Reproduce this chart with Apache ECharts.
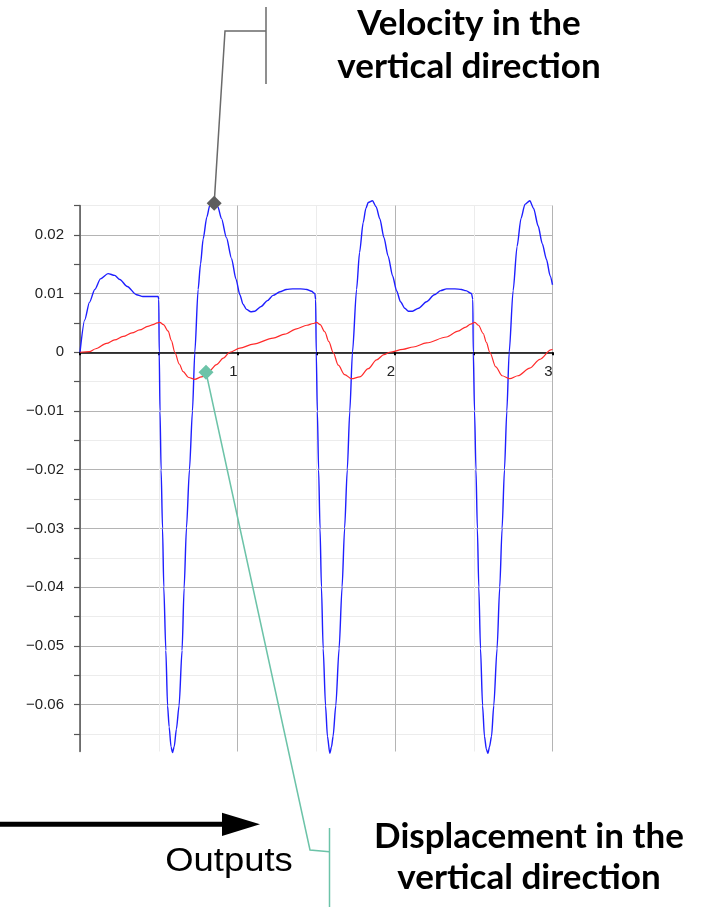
<!DOCTYPE html>
<html>
<head>
<meta charset="utf-8">
<script src="https://cdn.jsdelivr.net/npm/echarts@6/dist/echarts.min.js"></script>
<style>
html,body{margin:0;padding:0;background:#fff;}
#chart{width:709px;height:907px;}
</style>
</head>
<body>
<div id="chart"></div>
<script>
// ---- data (time in s, values) ----
const velT = [0,0.03,0.06,0.094,0.13,0.178,0.22,0.253,0.30,0.359,0.40,0.45,0.496,
  0.50,0.503,0.508,0.515,0.524,0.532,0.545,0.556,0.566,0.578,0.587,0.598,0.612,0.629,0.648,0.661,0.676,0.695,0.714,0.729,
  0.75,0.765,0.782,0.805,0.824,0.845,0.856,0.875,0.898,0.93,0.962,0.99,1.015,1.035,1.057,1.085,1.11,1.15,1.19,1.226,1.27,1.31,1.35,1.40,1.44,1.47,1.491,
  1.496,1.50,1.507,1.515,1.524,1.533,1.544,1.559,1.571,1.586,1.597,1.607,1.624,1.645,1.664,1.68,1.697,1.713,1.730,
  1.756,1.775,1.798,1.815,1.83,1.857,1.88,1.904,1.93,1.956,1.985,2.01,2.035,2.062,2.085,2.111,2.15,2.2,2.25,2.29,2.327,2.38,2.422,2.45,2.486,
  2.494,2.497,2.505,2.514,2.523,2.532,2.543,2.556,2.568,2.58,2.59,2.60,2.613,2.627,2.648,2.665,2.68,2.695,2.71,2.725,
  2.75,2.775,2.80,2.825,2.856,2.88,2.909,2.935,2.962,2.985,3.0];
const velV = [0,0.0055,0.0085,0.0107,0.0125,0.0134,0.0131,0.0124,0.0112,0.0098,0.0095,0.0095,0.0095,
  0.0090,0.000,-0.010,-0.020,-0.030,-0.040,-0.0508,-0.0602,-0.0638,-0.0672,-0.0682,-0.0672,-0.0642,-0.0602,-0.0508,-0.0402,-0.0299,-0.020,-0.010,0.000,
  0.0107,0.0150,0.0193,0.0230,0.0250,0.0257,0.0256,0.0248,0.0228,0.0195,0.0160,0.0125,0.0098,0.0082,0.0073,0.0069,0.0070,0.0078,0.0088,0.0097,0.0103,0.0107,0.0108,0.0108,0.0107,0.0104,0.0100,
  0.0090,0.000,-0.010,-0.020,-0.030,-0.040,-0.0505,-0.0602,-0.0654,-0.0683,-0.0672,-0.0654,-0.0602,-0.0505,-0.040,-0.030,-0.020,-0.010,0.000,
  0.0107,0.0170,0.0221,0.0245,0.0255,0.0258,0.0248,0.0227,0.0195,0.0164,0.0130,0.0105,0.0086,0.0075,0.0070,0.0070,0.0075,0.0086,0.0098,0.0105,0.0108,0.0108,0.0107,0.0105,0.0100,
  0.0090,0.000,-0.010,-0.020,-0.030,-0.040,-0.0505,-0.0602,-0.0654,-0.0676,-0.0683,-0.0672,-0.0654,-0.0602,-0.0505,-0.040,-0.030,-0.020,-0.010,0.000,
  0.0105,0.0180,0.0228,0.0252,0.0258,0.0245,0.0215,0.0185,0.0158,0.0130,0.0115];

const dispT = [0,0.06,0.1,0.168,0.22,0.274,0.33,0.379,0.43,0.464,0.49,0.507,0.53,0.56,0.58,0.602,0.63,0.655,0.69,0.729,0.771,0.82,0.867,0.91,0.951,
  1.015,1.1,1.226,1.3,1.375,1.44,1.48,1.502,1.525,1.554,1.58,1.607,1.64,1.68,1.724,1.776,1.83,1.883,1.93,1.967,
  2.05,2.116,2.2,2.327,2.40,2.45,2.48,2.507,2.53,2.56,2.58,2.602,2.64,2.68,2.729,2.78,2.856,2.92,2.99,3.0];
const dispV = [0,0.0001,0.0006,0.0015,0.0021,0.0027,0.0033,0.0038,0.0044,0.0047,0.0050,0.0051,0.0047,0.0036,0.0020,0.0000,-0.0020,-0.0033,-0.0043,-0.0046,-0.0042,-0.0032,-0.0021,-0.0010,0.0000,
  0.0007,0.0014,0.0024,0.0031,0.0040,0.0046,0.0049,0.0051,0.0047,0.0035,0.0018,0.0000,-0.0022,-0.0038,-0.0045,-0.0042,-0.0028,-0.0013,-0.0004,0.0000,
  0.0005,0.0009,0.0016,0.0026,0.0036,0.0043,0.0048,0.0051,0.0046,0.0032,0.0017,0.0000,-0.0025,-0.0040,-0.0045,-0.0040,-0.0027,-0.0012,0.0004,0.0005];

// axis ticks / labels
const yTickValues = [-0.065,-0.06,-0.055,-0.05,-0.045,-0.04,-0.035,-0.03,-0.025,-0.02,-0.015,-0.01,-0.005,0,0.005,0.01,0.015,0.02,0.025];
const yLabelValues = [-0.06,-0.05,-0.04,-0.03,-0.02,-0.01,0,0.01,0.02];
const xLabelValues = [1,2,3];

// callout anchors (data coords)
const velocityCallout = [0.852, 0.0254];
const dispCallout = [0.80, -0.0034];

const chart = echarts.init(document.getElementById('chart'), null, {renderer:'canvas'});
const zip = (a,b) => a.map((v,i)=>[v,b[i]]);

const gridTop = 205.5, gridBottom = 155.5;
const yMin = -0.068, yMax = 0.025;
// distance from the bottom of the plot to the zero line, so x labels sit just under the zero axis
const plotH = 907 - gridTop - gridBottom;
const zeroFromBottom = plotH * (0 - yMin) / (yMax - yMin);

const option = {
  animation: false,
  backgroundColor: '#ffffff',
  grid: {left: 80, right: 156.5, top: gridTop, bottom: gridBottom, containLabel: false},
  xAxis: {
    type: 'value', min: 0, max: 3, interval: 0.5,
    axisLine: {onZero: true, lineStyle: {color: '#000', width: 1.5}},
    axisTick: {show: true, length: 3, lineStyle: {color: '#000', width: 2}},
    axisLabel: {
      customValues: xLabelValues,
      align: 'right', verticalAlign: 'top', margin: 12 - zeroFromBottom,
      fontFamily: 'Liberation Sans', fontSize: 15, color: '#222',
      formatter: v => String(v)
    },
    splitLine: {show: true, lineStyle: {color: ['#b4b4b4', '#ececec'], width: 1}}
  },
  yAxis: {
    type: 'value', min: yMin, max: yMax,
    axisLine: {show: true, lineStyle: {color: '#555', width: 1.5}},
    axisTick: {show: true, length: 6, customValues: yTickValues, lineStyle: {color: '#555', width: 1.2}},
    axisLabel: {
      customValues: yLabelValues, margin: 16,
      fontFamily: 'Liberation Sans', fontSize: 15, color: '#222',
      formatter: v => v === 0 ? '0' : (v < 0 ? '\u2212' : '') + Math.abs(v).toFixed(2)
    },
    splitLine: {show: true, lineStyle: {color: ['#ececec', '#b4b4b4'], width: 1}}
  },
  series: [
    {type: 'line', name: 'Velocity', data: zip(velT, velV), showSymbol: false, clip: false,
     smooth: 0.25, smoothMonotone: 'x', lineStyle: {color: '#1f1fff', width: 1.4}, z: 3},
    {type: 'line', name: 'Displacement', data: zip(dispT, dispV), showSymbol: false, clip: false,
     smooth: 0.3, smoothMonotone: 'x', lineStyle: {color: '#ff2a2a', width: 1.2}, z: 4}
  ]
};
chart.setOption(option);

const vp = chart.convertToPixel({gridIndex: 0}, velocityCallout);
const dp = chart.convertToPixel({gridIndex: 0}, dispCallout);
const gray = '#6a6a6a', teal = '#6cc3a8';
const diamond = (p, color) => ({type: 'polygon', shape: {points: [[p[0], p[1]-7.5],[p[0]+7.5,p[1]],[p[0],p[1]+7.5],[p[0]-7.5,p[1]]]}, style: {fill: color}, z: 100});
const boldText = (t, x, y) => ({type: 'text', x: x, y: y, style: {text: t, fontFamily: 'Lato', fontWeight: 'bold', fontSize: 35, fill: '#000', align: 'center', verticalAlign: 'middle'}, z: 100});

chart.setOption({
  graphic: [
    {type: 'polyline', shape: {points: [vp, [225, 31], [266, 31]]}, style: {stroke: gray, lineWidth: 1.5, fill: null}, z: 99},
    {type: 'line', shape: {x1: 266, y1: 7, x2: 266, y2: 84}, style: {stroke: gray, lineWidth: 1.5}, z: 99},
    diamond(vp, '#5e5e5e'),
    {type: 'polyline', shape: {points: [dp, [310, 850], [329.5, 851.7]]}, style: {stroke: teal, lineWidth: 1.5, fill: null}, z: 99},
    {type: 'line', shape: {x1: 329.5, y1: 828, x2: 329.5, y2: 907}, style: {stroke: teal, lineWidth: 1.5}, z: 99},
    diamond(dp, teal),
    boldText('Velocity in the', 469, 24),
    boldText('vertical direction', 469, 67),
    boldText('Displacement in the', 529, 837),
    boldText('vertical direction', 529, 878),
    {type: 'rect', shape: {x: 0, y: 821.8, width: 226, height: 5}, style: {fill: '#000'}, z: 100},
    {type: 'polygon', shape: {points: [[222, 812.7],[260, 824.3],[222, 835.9]]}, style: {fill: '#000'}, z: 100},
    {type: 'text', x: 229, y: 862, scaleX: 1.12, style: {text: 'Outputs', fontFamily: 'Liberation Sans', fontSize: 32.5, fill: '#000', align: 'center', verticalAlign: 'middle'}, z: 100}
  ]
});
</script>
</body>
</html>
